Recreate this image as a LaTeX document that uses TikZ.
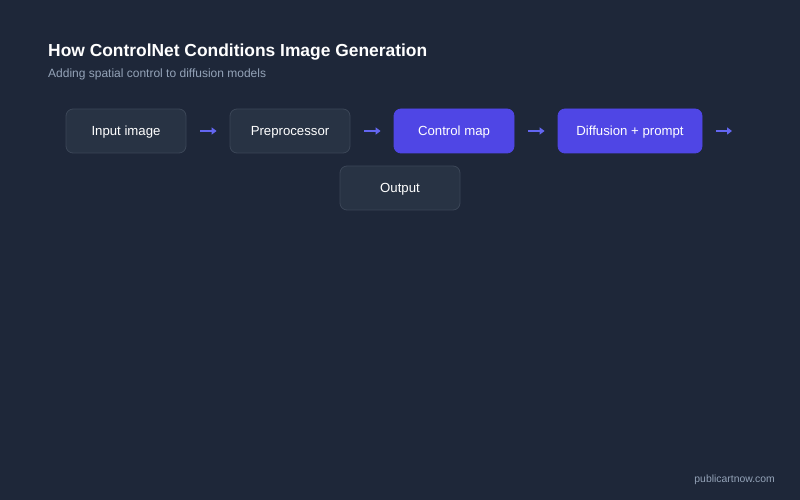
\documentclass[tikz,border=0pt]{standalone}
\usepackage{fontspec}
\usetikzlibrary{calc,arrows.meta}
\setmainfont{Liberation Sans}
\definecolor{bg}{HTML}{1E2739}
\definecolor{boxfill}{HTML}{283344}
\definecolor{boxline}{HTML}{3B4657}
\definecolor{accent}{HTML}{4F46E5}
\definecolor{arrowc}{HTML}{6366F1}
\definecolor{subc}{HTML}{94A3B8}
\tikzset{
  stepbox/.style={rounded corners=7bp, minimum width=120bp, minimum height=44bp, inner sep=0pt,
    font=\fontsize{13.2bp}{16bp}\selectfont, text=white, line width=0.8bp, text height=10bp, text depth=0bp},
  darkbox/.style={stepbox, fill=boxfill, draw=boxline},
  accbox/.style={stepbox, fill=accent, draw=accent},
  flowarrow/.style={draw=arrowc, line width=1.6bp, -{Triangle[length=5bp,width=7bp]}}
}
\begin{document}
\begin{tikzpicture}[x=1bp,y=-1bp]
\useasboundingbox (0,0) rectangle (800,500);
\fill[bg] (0,0) rectangle (800,500);
\node[anchor=base west, text=white, font=\bfseries\fontsize{17.4bp}{20bp}\selectfont, inner sep=0pt] (title) at (48,57) {How ControlNet Conditions Image Generation};
\node[anchor=base west, text=subc, font=\fontsize{12bp}{14bp}\selectfont, inner sep=0pt] (subtitle) at (48,78) {Adding spatial control to diffusion models};
\node[darkbox] (input) at (126,131) {Input image};
\node[darkbox] (pre) at (290,131) {Preprocessor};
\node[accbox] (cmap) at (454,131) {Control map};
\node[accbox, minimum width=144bp] (diff) at (630,131) {Diffusion + prompt};
\node[darkbox] (out) at (400,188) {Output};
\coordinate (end4) at (732,131);
\draw[flowarrow] ([xshift=14bp]input.east) -- ([xshift=-13bp]pre.west);
\draw[flowarrow] ([xshift=14bp]pre.east) -- ([xshift=-13bp]cmap.west);
\draw[flowarrow] ([xshift=14bp]cmap.east) -- ([xshift=-13bp]diff.west);
\draw[flowarrow] ([xshift=14bp]diff.east) -- (end4);
\node[anchor=base east, text=subc, font=\fontsize{10.4bp}{13bp}\selectfont, inner sep=0pt] (footer) at (775,482) {publicartnow.com};
\end{tikzpicture}
\end{document}
